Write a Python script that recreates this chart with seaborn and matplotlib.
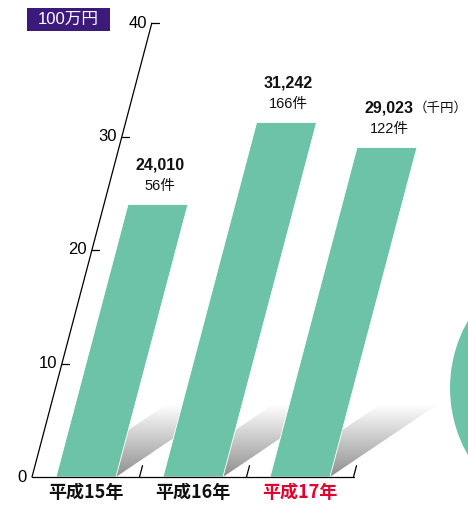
import numpy as np
import pandas as pd
import matplotlib
matplotlib.use('Agg')
import matplotlib.pyplot as plt
import seaborn as sns
from matplotlib.transforms import Affine2D
from matplotlib.patches import Polygon, Ellipse, Rectangle

# ---- data ----
years = ['平成15年', '平成16年', '平成17年']
year_colors = ['#111111', '#111111', '#e2002c']
amounts = [24.010, 31.242, 29.023]          # unit: 100万円
amount_labels = ['24,010', '31,242', '29,023']
counts = ['56件', '166件', '122件']
yticks = [0, 10, 20, 30, 40]
unit_label = '100万円'
sub_unit = '（千円）'

sns.set_theme(style='white')
plt.rcParams['font.family'] = ['Liberation Sans', 'Noto Sans CJK JP', 'DejaVu Sans']

GREEN = '#6cc3a8'
PURPLE = '#3c1a7c'

fig = plt.figure(figsize=(4.68, 5.05), dpi=100)
ax = fig.add_axes([0, 0, 1, 1])
df = pd.DataFrame({'year': years, 'amount': amounts})
W = 0.56
sns.barplot(data=df, x='year', y='amount', color=GREEN, width=W, ax=ax,
            saturation=1, zorder=3)

PX, PY = 107.0, 11.35
S = 0.264 * PY / PX          # skew (x units per y unit)
skew = Affine2D(np.array([[1, S, 0], [0, 1, 0], [0, 0, 1]])) + ax.transData
for p in ax.patches:
    p.set_transform(skew)
    p.set_edgecolor('white')
    p.set_linewidth(0.6)

ax.set_xlim(-86 / PX, (468 - 86) / PX)
ax.set_ylim(-(505 - 477) / PY, 477 / PY)
ax.axis('off')

# ---- axes lines ----
X0 = (32 - 86) / PX
XE = 2.505
ax.plot([X0, X0], [0, yticks[-1]], transform=skew, color='black', lw=0.9, zorder=5)
ax.plot([X0, XE], [0, 0], color='black', lw=0.9, zorder=5)
for xb in [0.5, 1.5, 2.5]:
    ax.plot([xb, xb], [0, 1.0], transform=skew, color='black', lw=0.9, zorder=5)
for t in yticks:
    if t > 0:
        ax.plot([X0, X0 + 7 / PX], [t, t], transform=skew, color='black', lw=0.9, zorder=5)
    ax.text(X0 - 5 / PX, t, str(t), transform=skew, ha='right', va='center',
            fontsize=12, color='black')

# ---- shadows ----
H = 47 / PY
D = (117 / PX, 79 / PY)
for i, v in enumerate(amounts):
    xr = i + W / 2
    P0 = (xr, 0)
    P1 = (xr + S * H, H)
    P2 = (P1[0] + D[0], P1[1] + D[1])
    P3 = (P0[0] + D[0], D[1])
    poly = Polygon([P0, P1, P2, P3], closed=True, facecolor='none',
                   edgecolor='none', transform=ax.transData)
    ax.add_patch(poly)
    ny, nx = 120, 10
    vv = np.linspace(0, H + D[1], ny)
    g = 0.56 + 0.44 * np.clip(vv / 6.4, 0, 1)
    arr = np.repeat(g[:, None], nx, axis=1)
    rgb = np.dstack([arr, arr, arr])
    im = ax.imshow(rgb, extent=[xr, xr + D[0] + S * H + 0.05, 0, H + D[1]],
                   origin='lower', aspect='auto', zorder=1, interpolation='bilinear')
    im.set_clip_path(poly)

ax.set_xlim(-86 / PX, (468 - 86) / PX)
ax.set_ylim(-(505 - 477) / PY, 477 / PY)

# ---- decorative circle at right ----
ax.add_patch(Ellipse(((585 - 86) / PX, (477 - 388) / PY), 2 * 135 / PX, 2 * 135 / PY,
                     facecolor=GREEN, edgecolor='none', zorder=4))

# ---- value labels ----
for i, v in enumerate(amounts):
    xc = i + S * v + 2 / PX
    ax.text(xc, v + 3.45, amount_labels[i], ha='center', va='center',
            fontsize=11.5, fontweight='bold', color='#111111', zorder=6)
    ax.text(xc, v + 1.6, counts[i], ha='center', va='center',
            fontsize=10.5, color='#111111', zorder=6)
    if i == len(amounts) - 1:
        ax.text(xc + 25 / PX, v + 3.45, sub_unit, ha='left', va='center',
                fontsize=9.7, color='#111111', zorder=6)

# ---- category labels ----
for i, yr in enumerate(years):
    ax.text(i, -16 / PY, yr, ha='center', va='center', fontsize=13,
            fontweight='bold', color=year_colors[i],
            family=['Noto Sans CJK JP', 'DejaVu Sans'])

# ---- unit box ----
fig.patches.append(Rectangle((27 / 468, 1 - 31 / 505), 83 / 468, 23 / 505,
                             transform=fig.transFigure, facecolor=PURPLE,
                             edgecolor='none', zorder=0))
fig.text(68.5 / 468, 1 - 19.5 / 505, unit_label, ha='center', va='center',
         fontsize=12, color='white')

fig.savefig('out.png', dpi=100)
